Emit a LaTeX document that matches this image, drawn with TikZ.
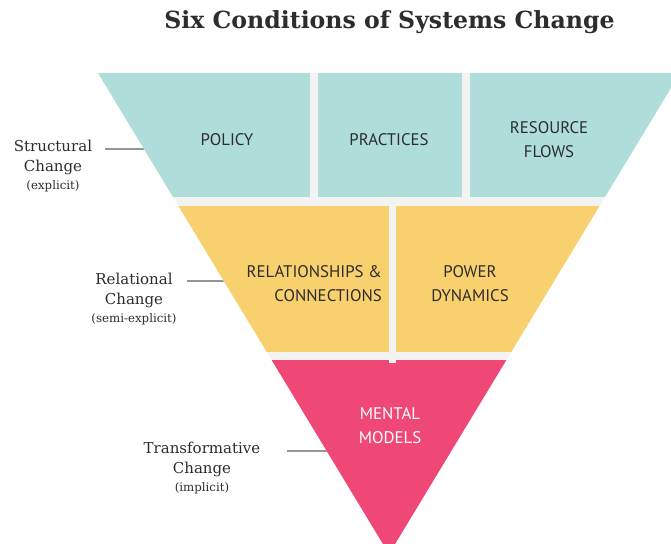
\documentclass[tikz,border=0pt]{standalone}
\usepackage{fontspec}
\setmainfont{DejaVu Serif}
\newfontfamily\blockfont{PT Sans}
\definecolor{tealband}{RGB}{174,221,218}
\definecolor{goldband}{RGB}{249,208,110}
\definecolor{roseband}{RGB}{239,72,118}
\definecolor{gapgray}{RGB}{243,243,243}
\definecolor{inkgray}{RGB}{45,45,45}
\definecolor{leadergray}{RGB}{150,150,150}
\tikzset{
  blocklabel/.style={font=\blockfont\fontsize{16.8}{24}\selectfont, text=inkgray, align=center, inner sep=0pt},
  levellabel/.style={font=\fontsize{15}{19.5}\selectfont, text=inkgray, align=center, inner sep=0pt},
  leader/.style={draw=leadergray, line width=1.3pt},
  gap/.style={fill=gapgray}
}
\newcommand{\subnote}[1]{{\fontsize{11.8}{13}\selectfont #1}}
\begin{document}
\begin{tikzpicture}[x=1pt,y=-1pt]
\useasboundingbox (0,0) rectangle (671,543);
\fill[white] (0,0) rectangle (671,543);

% title
\node[font=\bfseries\fontsize{23.6}{28}\selectfont, text=inkgray] (title) at (389.5,22) {Six Conditions of Systems Change};

% leader lines from the level labels to the funnel edge
\coordinate (sA) at (105,149);
\coordinate (sB) at (147,149);
\coordinate (rA) at (187,281);
\coordinate (rB) at (228,281);
\coordinate (tA) at (287,451);
\coordinate (tB) at (328,451);
\draw[leader] (sA) -- (sB);
\draw[leader] (rA) -- (rB);
\draw[leader] (tA) -- (tB);

% funnel
\begin{scope}
  \clip (0,0) rectangle (671,543);
  \fill[gapgray] (98,73) -- (680,73) -- (389,554) -- cycle;
  \clip (98,73) -- (680,73) -- (389,554) -- cycle;
  \fill[tealband] (90,73) rectangle (690,197);
  \fill[goldband] (90,206) rectangle (690,352);
  \fill[roseband] (90,360) rectangle (690,560);
  % separators between the conditions
  \fill[gap] (310,73) rectangle (317.5,206);
  \fill[gap] (462,73) rectangle (469.5,198);
  \fill[gap] (388.5,206) rectangle (396,363);
\end{scope}

% conditions
\node[blocklabel] (policy) at (227,140) {POLICY};
\node[blocklabel] (practices) at (389,140) {PRACTICES};
\node[blocklabel] (resource) at (549,140) {RESOURCE\\FLOWS};
\node[blocklabel, align=right, anchor=east] (relations) at (382,284) {RELATIONSHIPS \&\\CONNECTIONS};
\node[blocklabel] (power) at (470,284) {POWER\\DYNAMICS};
\node[blocklabel, text=white] (mental) at (390,426) {MENTAL\\MODELS};

% levels of change
\node[levellabel] (structural) at (53,166.5) {Structural\\Change\\[-1pt]\subnote{(explicit)}};
\node[levellabel] (relational) at (134,299.5) {Relational\\Change\\[-1pt]\subnote{(semi-explicit)}};
\node[levellabel] (transformative) at (202,468.5) {Transformative\\Change\\[-1pt]\subnote{(implicit)}};
\end{tikzpicture}
\end{document}
